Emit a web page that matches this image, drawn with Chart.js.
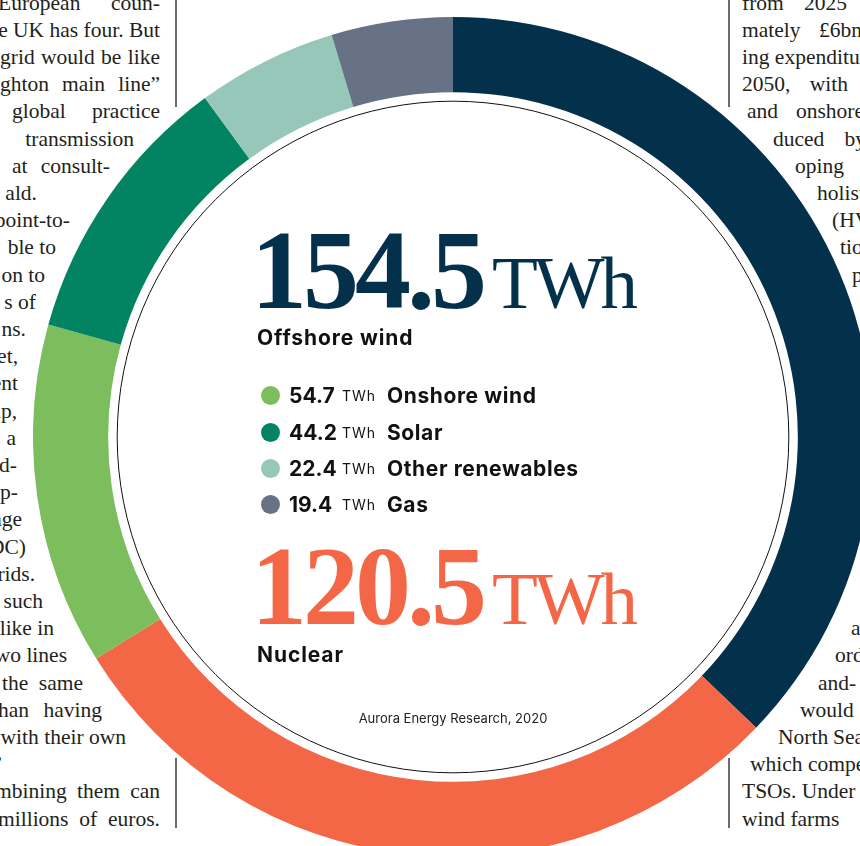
<!DOCTYPE html>
<html lang="en">
<head>
    <meta charset="UTF-8">
    <title>UK generation mix 2050</title>
    <script src="https://cdn.jsdelivr.net/npm/chart.js"></script>
    <style>
        body {
            margin: 0;
            width: 860px;
            height: 846px;
            overflow: hidden;
            position: relative;
            background: #fff;
            color: #231f20;
        }

        .line {
            position: absolute;
            height: 27.2px;
            line-height: 27.2px;
            font-family: 'Liberation Serif', serif;
            font-size: 21.5px;
            white-space: pre;
        }
        .line.right { text-align: right; }

        .rule { position: absolute; width: 1.5px; background: #6b6b6b; }

        .chart-wrap {
            position: absolute;
            left: 33px;
            top: 17px;
            width: 840px;
            height: 840px;
        }

        .big {
            position: absolute;
            left: 251px;
            font-family: 'Liberation Serif', serif;
            font-weight: 700;
            font-size: 112px;
            line-height: 112px;
            letter-spacing: -4px;
            white-space: nowrap;
        }
        .big .unit {
            font-weight: 400;
            font-size: 75px;
            letter-spacing: -4px;
            margin-left: 9px;
        }

        .label {
            position: absolute;
            left: 257px;
            font-family: Inter, sans-serif;
            font-weight: 700;
            font-size: 21px;
            line-height: 21px;
            letter-spacing: 0.9px;
            color: #111;
            white-space: nowrap;
        }

        .row {
            position: absolute;
            left: 261px;
            height: 21px;
            font-family: Inter, sans-serif;
            font-weight: 700;
            font-size: 21px;
            line-height: 21px;
            color: #111;
            white-space: nowrap;
        }
        .row .dot {
            position: absolute;
            left: 0;
            top: 1px;
            width: 19px;
            height: 19px;
            border-radius: 50%;
        }
        .row .val { position: absolute; left: 28px; }
        .row .u { position: absolute; left: 81px; font-weight: 400; font-size: 14px; letter-spacing: 1px; }
        .row .name { position: absolute; left: 126px; letter-spacing: 0.6px; }

        .source {
            position: absolute;
            left: 253px;
            width: 400px;
            text-align: center;
            top: 712px;
            font-family: Inter, sans-serif;
            font-size: 13px;
            line-height: 13px;
            color: #222;
        }
    </style>
</head>
<body>
    <div id="article"></div>
    <div class="rule" style="left:175px; top:0; height:107px"></div>
    <div class="rule" style="left:175px; top:758px; height:70px"></div>
    <div class="rule" style="left:728px; top:0; height:107px"></div>
    <div class="rule" style="left:728px; top:758px; height:70px"></div>

    <div class="chart-wrap">
        <canvas id="donut"></canvas>
    </div>

    <div class="big" id="bigTop" style="top:214px"></div>
    <div class="label" id="labelTop" style="top:327px"></div>
    <div id="legend"></div>
    <div class="big" id="bigBottom" style="top:530px"></div>
    <div class="label" id="labelBottom" style="top:644px"></div>
    <div class="source" id="source"></div>

    <script>
        // generation by source, TWh (clockwise from 12 o'clock)
        const categories = ['Offshore wind', 'Nuclear', 'Onshore wind', 'Solar', 'Other renewables', 'Gas'];
        const values = [154.5, 120.5, 54.7, 44.2, 22.4, 19.4];
        const sliceColors = ['#03304a', '#f36646', '#7cbd5d', '#028362', '#96c7b9', '#677287'];
        const unit = 'TWh';
        const sourceNote = 'Aurora Energy Research, 2020';

        // surrounding article text, cut by the page edge: [text, left, right]
        // left given -> justified between left and right, else right aligned
        const leftLines = [
            ['European coun-', -2, 160], ['tries, the UK has four. But', null, 160], ['grid would be like', 0, 160],
            ['ghton main line\u201d', 0, 160], ['global practice', 12, 160], ['transmission', null, 134],
            ['at consult-', 12, 110], ['ald.', null, 37], ['point-to-', null, 70], ['ble to', null, 56],
            ['on to', null, 45], ['s of', null, 36], ['ns.', null, 26], ['Yet,', null, 18], ['ent', null, 18],
            ['up,', null, 17], ['a', null, 16], ['ed-', null, 17], ['ap-', null, 18], ['age', null, 22],
            ['(HVDC)', null, 26], ['grids.', null, 35], ['such', null, 43], ['like in', null, 54],
            ['two lines', null, 67], ['the same', 2, 83], ['than having', -8, 102], ['with their own', null, 126],
            ['\u2019', null, 3], ['mbining them can', -5, 160], ['millions of euros.', -2, 160]
        ];
        // right column: [text, left, right]; right null -> plain left aligned
        const rightLines = [
            ['from 2025', 742, 847], ['mately \u00a36bn', 742, 862], ['ing expenditure', 742, null],
            ['2050, with', 742, 848], ['and onshore', 747, 864], ['duced by', 773, 866],
            ['oping', 795, null], ['holistic', 817, null], ['(HVDC)', 832, null], ['tion', 840, null],
            ['p', 852, null], null, null, null, null, null, null, null, null, null, null, null, null,
            ['an', 851, null], ['order', 835, null], ['and-', 818, null], ['would', 800, null],
            ['North Sea', 778, 864], ['which compete', 750, null], ['TSOs. Under', 742, null],
            ['wind farms', 742, null]
        ];

        const article = document.getElementById('article');
        function addLine(l, i) {
            if (!l) return;
            const [text, left, right] = l;
            const d = document.createElement('div');
            d.className = 'line';
            d.style.top = (-10.5 + 27.2 * i) + 'px';
            const span = document.createElement('span');
            span.textContent = text;
            d.appendChild(span);
            article.appendChild(d);
            const gaps = (text.match(/ /g) || []).length;
            if (left !== null && right !== null && gaps > 0) {
                // justified line: stretch the word gaps to fill left..right
                d.style.left = left + 'px';
                const w = span.getBoundingClientRect().width;
                d.style.wordSpacing = ((right - left - w) / gaps) + 'px';
            } else if (right !== null) {
                d.classList.add('right');
                d.style.left = (right - 400) + 'px';
                d.style.width = '400px';
            } else {
                d.style.left = left + 'px';
            }
        }
        leftLines.forEach(addLine);
        rightLines.forEach(addLine);

        // centre texts
        function bigNumber(el, i) {
            el.style.color = sliceColors[i];
            el.innerHTML = values[i].toFixed(1) + '<span class="unit">' + unit + '</span>';
        }
        bigNumber(document.getElementById('bigTop'), 0);
        bigNumber(document.getElementById('bigBottom'), 1);
        document.getElementById('labelTop').textContent = categories[0];
        document.getElementById('labelBottom').textContent = categories[1];
        document.getElementById('source').textContent = sourceNote;

        const legend = document.getElementById('legend');
        const rowTops = [385, 422, 458, 494];
        [2, 3, 4, 5].forEach((i, k) => {
            const row = document.createElement('div');
            row.className = 'row';
            row.style.top = rowTops[k] + 'px';
            row.innerHTML = '<span class="dot" style="background:' + sliceColors[i] + '"></span>' +
                '<span class="val">' + values[i].toFixed(1) + '</span>' +
                '<span class="u">' + unit + '</span>' +
                '<span class="name">' + categories[i] + '</span>';
            legend.appendChild(row);
        });

        // thin ring just inside the donut
        const innerRing = {
            id: 'innerRing',
            afterDatasetsDraw(chart) {
                const arc = chart.getDatasetMeta(0).data[0];
                const ctx = chart.ctx;
                ctx.save();
                ctx.beginPath();
                ctx.arc(arc.x, arc.y, arc.innerRadius - 9, 0, Math.PI * 2);
                ctx.strokeStyle = '#111';
                ctx.lineWidth = 1;
                ctx.stroke();
                ctx.restore();
            }
        };

        new Chart(document.getElementById('donut'), {
            type: 'doughnut',
            data: {
                labels: categories,
                datasets: [{
                    data: values,
                    backgroundColor: sliceColors,
                    borderWidth: 0
                }]
            },
            options: {
                responsive: true,
                maintainAspectRatio: false,
                animation: false,
                cutout: '82.1%',
                layout: { padding: 0 },
                plugins: {
                    legend: { display: false },
                    tooltip: { enabled: false }
                }
            },
            plugins: [innerRing]
        });
    </script>
</body>
</html>
